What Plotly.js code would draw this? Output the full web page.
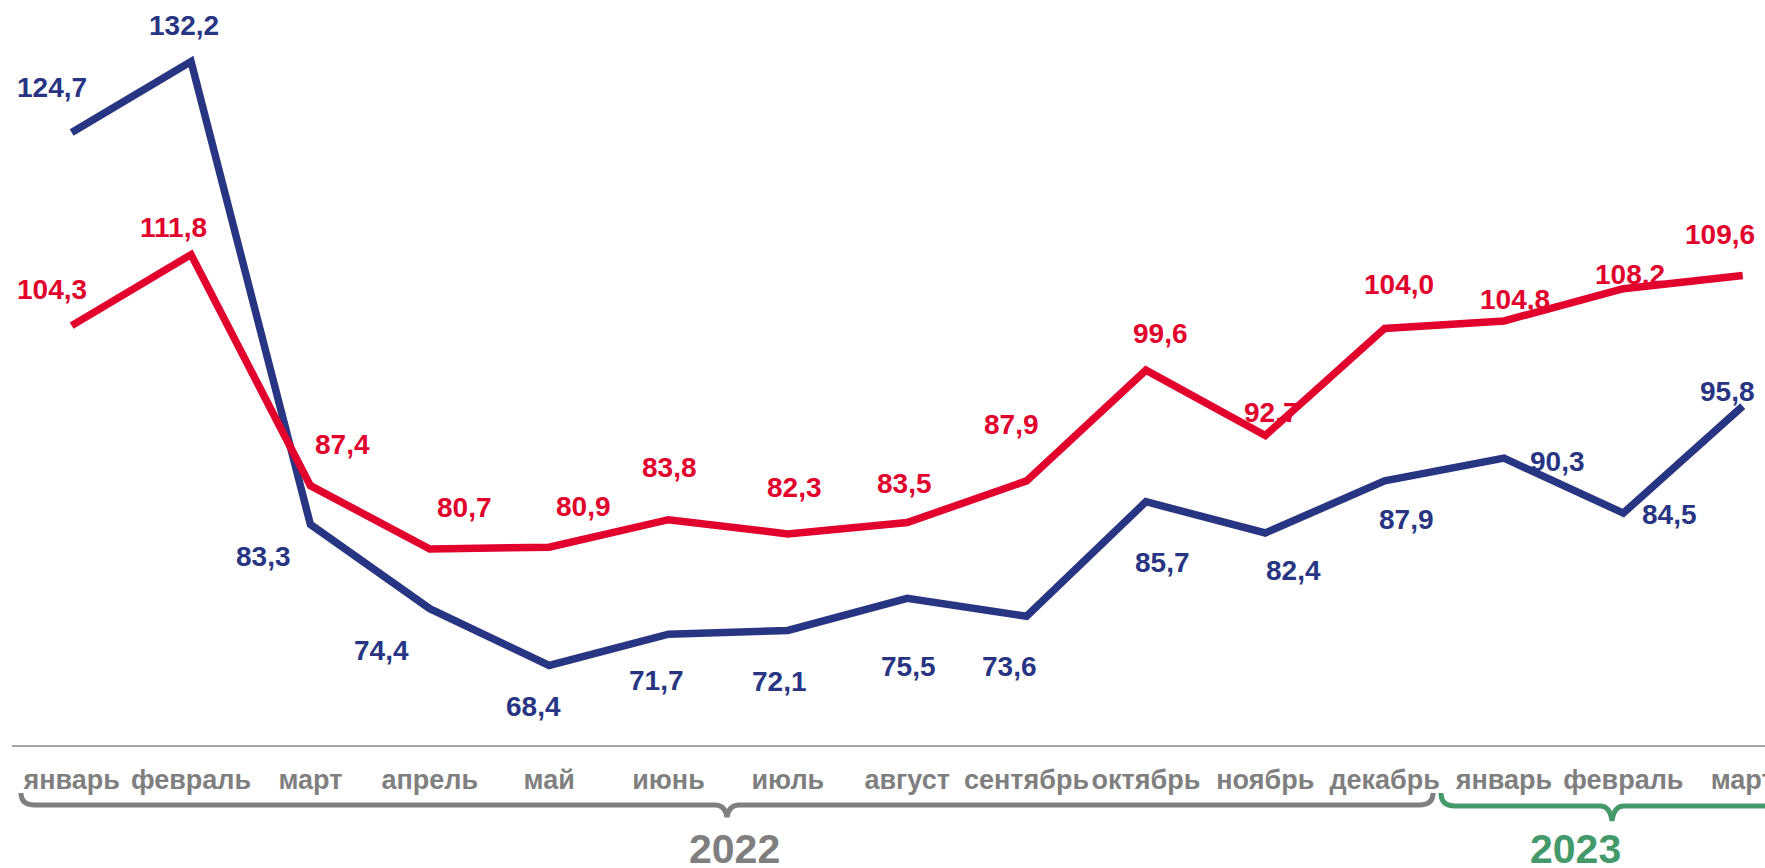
<!DOCTYPE html>
<html>
<head>
<meta charset="utf-8">
<script src="https://cdn.plot.ly/plotly-3.0.1.min.js"></script>
<style>html,body{margin:0;padding:0;background:#fff;overflow:hidden}#chart{width:1765px;height:868px}</style>
</head>
<body>
<div id="chart"></div>
<script>
// ---- data ----
const months = ["январь","февраль","март","апрель","май","июнь","июль","август","сентябрь","октябрь","ноябрь","декабрь","январь","февраль","март"];
const blueValues = [124.7,132.2,83.3,74.4,68.4,71.7,72.1,75.5,73.6,85.7,82.4,87.9,90.3,84.5,95.8];
const redValues  = [104.3,111.8,87.4,80.7,80.9,83.8,82.3,83.5,87.9,99.6,92.7,104.0,104.8,108.2,109.6];
const yearLabels = ["2022","2023"];

// ---- label offsets (pixels, x right / y down) ----
const blueOffsets = [[-20,-45],[-7,-36],[-47,32],[-48,42],[-16,41],[-12,46],[-8,51],[1,68],[-17,50],[17,61],[28,38],[22,39],[53,3],[46,1],[-15,-15]];
const redOffsets  = [[-20,-36],[-18,-27],[32,-41],[35,-42],[34,-41],[1,-52],[7,-46],[-3,-39],[-15,-56],[15,-37],[6,-23],[14,-44],[11,-21],[7,-14],[-23,-41]];

const BLUE = "#283583", RED = "#E2002D", GREY = "#7F7F7F", GREEN = "#43996A";
const FONT = "Liberation Sans, Arial, sans-serif";

const W = 1765, H = 868, L = 12, T = 0, B = 123;
const plotW = W - L, plotH = H - T - B;
const step = 119.36;
const xr = [-0.5, -0.5 + plotW / step];

const idx = months.map((_, i) => i);
const fmt = v => v.toFixed(1).replace('.', ',');

const traces = [
  {x: idx, y: blueValues, type: 'scatter', mode: 'lines', line: {color: BLUE, width: 7.5}, hoverinfo: 'skip'},
  {x: idx, y: redValues, type: 'scatter', mode: 'lines', line: {color: RED, width: 7.5}, hoverinfo: 'skip'}
];

const annotations = [];
blueValues.forEach((v, i) => annotations.push({
  x: i, y: v, xref: 'x', yref: 'y', text: fmt(v), showarrow: false,
  xshift: blueOffsets[i][0], yshift: -blueOffsets[i][1],
  font: {family: FONT, size: 28, color: BLUE, weight: 'bold'}
}));
redValues.forEach((v, i) => annotations.push({
  x: i, y: v, xref: 'x', yref: 'y', text: fmt(v), showarrow: false,
  xshift: redOffsets[i][0], yshift: -redOffsets[i][1],
  font: {family: FONT, size: 28, color: RED, weight: 'bold'}
}));

const px = p => (p - L) / plotW;
const py = p => (T + plotH - p) / plotH;
const xOf = i => L + (i - xr[0]) * step;

annotations.push({x: px(xOf(5.55)), y: py(849), xref: 'paper', yref: 'paper', text: yearLabels[0], showarrow: false,
  yanchor: 'middle', font: {family: FONT, size: 41, color: GREY, weight: 'bold'}});
annotations.push({x: px(xOf(13)), y: py(849), xref: 'paper', yref: 'paper', text: yearLabels[1], showarrow: false,
  yanchor: 'middle', font: {family: FONT, size: 41, color: GREEN, weight: 'bold'}});

function brace(x0, x1, xc, yTop, yLine, yTip, r) {
  const P = (x, y) => px(x) + ',' + py(y);
  return 'M ' + P(x0, yTop) + ' Q ' + P(x0, yLine) + ' ' + P(x0 + r, yLine) +
    ' L ' + P(xc - 12, yLine) + ' Q ' + P(xc - 2, yLine) + ' ' + P(xc, yTip) +
    ' Q ' + P(xc + 2, yLine) + ' ' + P(xc + 12, yLine) +
    ' L ' + P(x1 - r, yLine) + ' Q ' + P(x1, yLine) + ' ' + P(x1, yTop);
}

const shapes = [
  {type: 'path', xref: 'paper', yref: 'paper', path: brace(21, 1433, 727, 793, 805, 817, 14), line: {color: GREY, width: 5}},
  {type: 'path', xref: 'paper', yref: 'paper', path: brace(1441, 1800, 1612, 793, 806, 821, 14), line: {color: GREEN, width: 5}}
];

const layout = {
  width: W, height: H,
  margin: {l: L, r: 0, t: T, b: B, pad: 0},
  paper_bgcolor: '#fff', plot_bgcolor: '#fff',
  showlegend: false,
  xaxis: {
    range: xr, tickvals: idx, ticktext: months, showgrid: false, zeroline: false,
    showline: true, linecolor: '#A6A6A6', linewidth: 2, ticks: '',
    tickfont: {family: FONT, size: 27, color: GREY, weight: 'bold'},
    ticklabelstandoff: 10, ticklabeloverflow: 'allow', fixedrange: true
  },
  yaxis: {range: [60, 138.7], visible: false, fixedrange: true},
  annotations: annotations,
  shapes: shapes
};

Plotly.newPlot('chart', traces, layout, {staticPlot: true, displayModeBar: false});
</script>
</body>
</html>
